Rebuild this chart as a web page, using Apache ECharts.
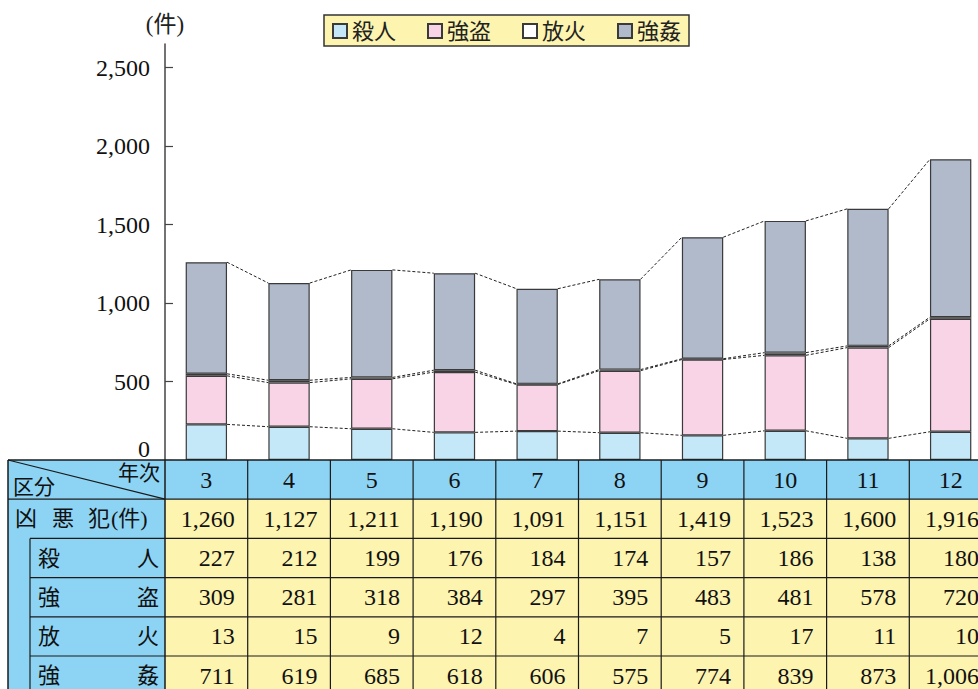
<!DOCTYPE html>
<html>
<head>
<meta charset="utf-8">
<script src="https://cdn.jsdelivr.net/npm/echarts@6/dist/echarts.min.js"></script>
<style>
html,body{margin:0;padding:0;background:#fff;overflow:hidden;width:978px;height:689px;}
#c{width:992px;height:689px;}
</style>
</head>
<body>
<div id="c"></div>
<script>
// ---- data ----
const years = ['3','4','5','6','7','8','9','10','11','12'];
const totals = [1260,1127,1211,1190,1091,1151,1419,1523,1600,1916];
const murder = [227,212,199,176,184,174,157,186,138,180];
const robbery = [309,281,318,384,297,395,483,481,578,720];
const arson = [13,15,9,12,4,7,5,17,11,10];
const rape = [711,619,685,618,606,575,774,839,873,1006];
const seriesNames = ['殺人','強盗','放火','強姦'];
const rowLabels = [['殺','人'],['強','盗'],['放','火'],['強','姦']];
const yTicks = [0,500,1000,1500,2000,2500];
const unitLabel = '(件)';

const SERIF = '"Liberation Serif","DejaVu Serif","Noto Sans CJK JP",serif';
const colors = ['#c5e8f8','#f8d4e6','#ffffff','#b0bacb'];
const valueSets = [murder, robbery, arson, rape];
const n = years.length;

// cumulative levels
const levels = [];
let acc = years.map(() => 0);
valueSets.forEach(vs => { acc = acc.map((a, i) => a + vs[i]); levels.push(acc.slice()); });

const fmt = v => String(v).replace(/\B(?=(\d{3})+(?!\d))/g, ',');

const chart = echarts.init(document.getElementById('c'), null, {renderer: 'svg'});

const barSeries = seriesNames.map((name, k) => ({
  name, type: 'bar', stack: 'all', barWidth: '50%',
  data: valueSets[k],
  itemStyle: {color: colors[k], borderColor: '#3a3a3a', borderWidth: 1.2},
  emphasis: {disabled: true}, animation: false
}));

const connector = {
  type: 'custom', silent: true, animation: false, z: 5,
  data: years.map((y, i) => [i, levels[3][i]]),
  encode: {x: 0, y: 1},
  renderItem(params, api) {
    const i = api.value(0);
    if (i >= n - 1) return null;
    const halfW = api.size([1, 0])[0] * 0.25;
    const children = levels.map(lv => {
      const p1 = api.coord([i, lv[i]]);
      const p2 = api.coord([i + 1, lv[i + 1]]);
      return {type: 'line', shape: {x1: p1[0] + halfW, y1: p1[1], x2: p2[0] - halfW, y2: p2[1]},
        style: {stroke: '#222', lineWidth: 1, lineDash: [3, 2]}};
    });
    return {type: 'group', children};
  }
};

chart.setOption({
  animation: false,
  backgroundColor: '#fff',
  grid: {left: 165, right: 0, top: 44, bottom: 229, containLabel: false},
  legend: {
    data: seriesNames, left: 324, top: 15,
    backgroundColor: '#fdf4b0', borderColor: '#333', borderWidth: 1.5,
    padding: [5, 8, 4, 8], itemWidth: 14, itemHeight: 14, itemGap: 31, icon: 'rect',
    textStyle: {fontSize: 22, fontFamily: SERIF, color: '#222'},
    selectedMode: false
  },
  xAxis: {
    type: 'category', data: years,
    axisLine: {show: false}, axisTick: {show: false}, axisLabel: {show: false}
  },
  yAxis: {
    type: 'value', min: 0, max: 2650,
    name: unitLabel, nameLocation: 'end', nameGap: 8,
    nameTextStyle: {fontSize: 23, fontFamily: SERIF, color: '#222', align: 'center'},
    axisLine: {show: true, lineStyle: {color: '#444', width: 1.5}},
    axisTick: {show: true, inside: true, length: 8, customValues: yTicks, lineStyle: {color: '#444', width: 1.2}},
    splitLine: {show: false},
    axisLabel: {
      customValues: yTicks, margin: 15, fontSize: 24, fontFamily: SERIF, color: '#111',
      formatter: v => v === 0 ? '{z|0}' : fmt(v),
      rich: {z: {fontSize: 24, fontFamily: SERIF, color: '#111', padding: [0, 0, 22, 0]}}
    }
  },
  series: [...barSeries, connector]
});

// ---- table ----
function buildTable() {
  const cx = years.map((y, i) => chart.convertToPixel({xAxisIndex: 0}, i));
  const half = (cx[1] - cx[0]) / 2;
  const top = chart.convertToPixel({yAxisIndex: 0}, 0);
  const rh = 39.2;
  const leftX = 8, subX = 30, headR = cx[0] - half;
  const rowsY = [0, 1, 2, 3, 4, 5, 6].map(k => top + k * rh);
  const els = [];
  const line = (x1, y1, x2, y2, w) => els.push({type: 'line', silent: true, z: 10,
    shape: {x1, y1, x2, y2}, style: {stroke: '#1a1a1a', lineWidth: w || 1.2}});
  const rect = (x, y, w, h, fill) => els.push({type: 'rect', silent: true, z: 1,
    shape: {x, y, width: w, height: h}, style: {fill}});
  const text = (t, x, y, align, size) => els.push({type: 'text', silent: true, z: 20,
    style: {text: t, x, y, align: align || 'center', verticalAlign: 'middle',
      fontSize: size || 24, fontFamily: SERIF, fill: '#111'}});
  const rightEdge = cx[n - 1] + half;
  // backgrounds
  rect(leftX, top, rightEdge - leftX, rh, '#8dd4f4');
  rect(leftX, top + rh, headR - leftX, 700 - top - rh, '#8dd4f4');
  rect(headR, top + rh, rightEdge - headR, 700 - top - rh, '#fdf4b0');
  // horizontal lines
  line(leftX, top, rightEdge, top, 1.5);
  line(leftX, top + rh, rightEdge, top + rh, 1.2);
  for (let k = 2; k <= 5; k++) line(subX, rowsY[k], rightEdge, rowsY[k], 1.2);
  // verticals
  line(leftX, top, leftX, 700, 1.5);
  line(subX, rowsY[2], subX, 700, 1.2);
  line(headR, top, headR, 700, 1.5);
  for (let i = 0; i < n; i++) line(cx[i] + half, top, cx[i] + half, 700, 1.2);
  // diagonal
  line(leftX, top, headR, top + rh, 1.2);
  // header texts
  const mid = k => top + rh * k + rh / 2;
  els.push({type: 'text', silent: true, z: 20, style: {text: '年次', x: headR - 5, y: top + 3, align: 'right', verticalAlign: 'top', fontSize: 21, fontFamily: SERIF, fill: '#111'}});
  els.push({type: 'text', silent: true, z: 20, style: {text: '区分', x: leftX + 5, y: top + rh - 2, align: 'left', verticalAlign: 'bottom', fontSize: 21, fontFamily: SERIF, fill: '#111'}});
  years.forEach((y, i) => text(y, cx[i], mid(0), 'center'));
  // row labels
  text('凶', 15, mid(1), 'left', 22); text('悪', 52, mid(1), 'left', 22); text('犯', 88, mid(1), 'left', 22);
  text('(件)', 111, mid(1), 'left', 22);
  rowLabels.forEach((pair, k) => {
    text(pair[0], 38, mid(k + 2), 'left', 22);
    text(pair[1], headR - 6, mid(k + 2), 'right', 22);
  });
  // values
  const rows = [totals, murder, robbery, arson, rape];
  rows.forEach((vals, k) => vals.forEach((v, i) => text(fmt(v), cx[i] + half - 13, mid(k + 1), 'right')));
  chart.setOption({graphic: {elements: els}});
}
buildTable();
</script>
</body>
</html>
